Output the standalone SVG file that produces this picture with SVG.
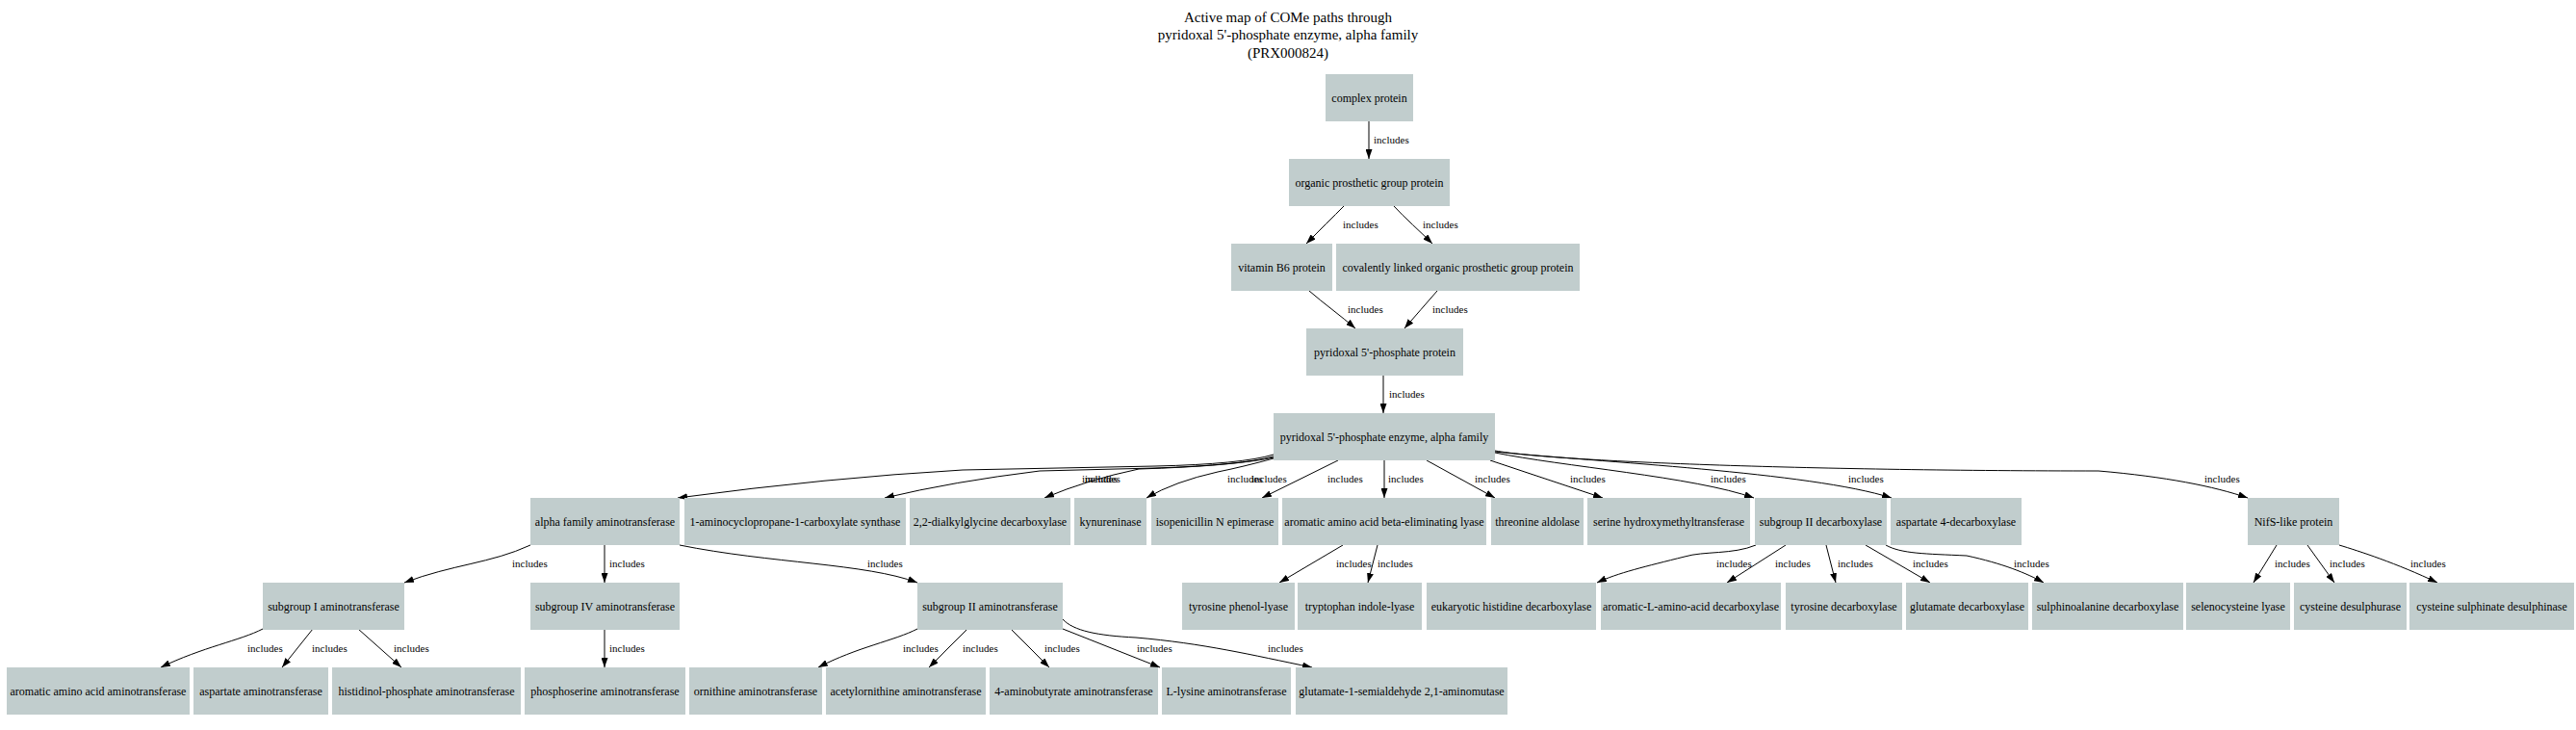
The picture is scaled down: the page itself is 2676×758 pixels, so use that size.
<svg xmlns="http://www.w3.org/2000/svg" width="2676" height="758" viewBox="0 0 2676 758">
<style>
.n rect{fill:#c1cdcd}
.n text{font-family:"Liberation Serif",serif;font-size:12px;text-anchor:middle;fill:#000}
.e path{fill:none;stroke:#000;stroke-width:1;marker-end:url(#a)}
.e text{font-family:"Liberation Serif",serif;font-size:11px;fill:#000}
.t text{font-family:"Liberation Serif",serif;font-size:15px;text-anchor:middle;fill:#000}
</style>
<defs>
<marker id="a" markerWidth="10" markerHeight="7" refX="10" refY="3.5" orient="auto" markerUnits="userSpaceOnUse"><path d="M0,0 L10,3.5 L0,7 z" fill="#000"/></marker>
</defs>
<rect width="2676" height="758" fill="#fff"/>
<g class="t" id="title">
<text x="1338" y="22.5">Active map of COMe paths through</text>
<text x="1338" y="41">pyridoxal 5'-phosphate enzyme, alpha family</text>
<text x="1338" y="59.5">(PRX000824)</text>
</g>
<g class="e" id="edges">
<path d="M1422,126 L1422,165"/><text x="1427" y="149">includes</text>
<path d="M1397,213 C1385,225 1370,240 1357,253"/><text x="1395" y="237">includes</text>
<path d="M1447,213 C1460,227 1475,240 1488,253"/><text x="1478" y="237">includes</text>
<path d="M1360,302 C1375,315 1393,328 1408,341"/><text x="1400" y="325">includes</text>
<path d="M1493,302 C1482,315 1470,328 1459,341"/><text x="1488" y="325">includes</text>
<path d="M1437,390 L1437,429"/><text x="1443" y="413">includes</text>
<path d="M1323,472 Q1290,482 1200,484 L1000,488 Q860,496 704,517"/><text x="1275" y="501">includes</text>
<path d="M1323,474 Q1290,483 1200,486 L1080,489 Q990,500 919,517"/><text x="1124" y="501">includes</text>
<path d="M1323,475 Q1280,484 1183,487 Q1130,498 1085,517"/><text x="1127" y="501">includes</text>
<path d="M1323,476 Q1290,485 1265,490 Q1220,500 1191,517"/><text x="1300" y="501">includes</text>
<path d="M1390,478 L1311,517"/><text x="1379" y="501">includes</text>
<path d="M1438,478 L1438,517"/><text x="1442" y="501">includes</text>
<path d="M1482,478 L1553,517"/><text x="1532" y="501">includes</text>
<path d="M1548,478 L1665,517"/><text x="1631" y="501">includes</text>
<path d="M1553,470 C1620,484 1760,495 1822,517"/><text x="1777" y="501">includes</text>
<path d="M1553,469 C1660,480 1880,490 1965,517"/><text x="1920" y="501">includes</text>
<path d="M1553,468 C1620,480 1900,489 2180,489 C2250,495 2300,505 2335,517"/><text x="2290" y="501">includes</text>
<path d="M551,566 C510,585 470,586 420,605"/><text x="532" y="589">includes</text>
<path d="M628,566 L628,605"/><text x="633" y="589">includes</text>
<path d="M706,566 C800,585 900,585 953,605"/><text x="901" y="589">includes</text>
<path d="M1395,566 L1329,605"/><text x="1388" y="589">includes</text>
<path d="M1431,566 L1421,605"/><text x="1431" y="589">includes</text>
<path d="M1824,566 C1800,576 1770,572 1750,578 C1710,588 1680,595 1659,605"/><text x="1783" y="589">includes</text>
<path d="M1855,566 L1794,605"/><text x="1844" y="589">includes</text>
<path d="M1897,566 L1907,605"/><text x="1909" y="589">includes</text>
<path d="M1938,566 L2005,605"/><text x="1987" y="589">includes</text>
<path d="M1959,566 C1975,575 2000,575 2043,577 C2080,585 2105,595 2123,605"/><text x="2092" y="589">includes</text>
<path d="M2365,566 L2341,605"/><text x="2363" y="589">includes</text>
<path d="M2397,566 L2425,605"/><text x="2420" y="589">includes</text>
<path d="M2430,566 C2450,572 2490,585 2532,605"/><text x="2504" y="589">includes</text>
<path d="M273,653 C250,665 210,672 167,693"/><text x="257" y="677">includes</text>
<path d="M325,653 L293,693"/><text x="324" y="677">includes</text>
<path d="M372,653 L417,693"/><text x="409" y="677">includes</text>
<path d="M628,654 L628,693"/><text x="633" y="677">includes</text>
<path d="M953,653 C930,665 890,672 850,693"/><text x="938" y="677">includes</text>
<path d="M1004,654 L965,693"/><text x="1000" y="677">includes</text>
<path d="M1051,654 L1090,693"/><text x="1085" y="677">includes</text>
<path d="M1104,653 L1205,693"/><text x="1181" y="677">includes</text>
<path d="M1104,643 C1115,655 1140,660 1180,662 C1250,668 1300,680 1363,693"/><text x="1317" y="677">includes</text>
</g>
<g class="n" id="n1"><rect x="1377" y="77" width="91" height="49"/><text x="1422.5" y="105.5">complex protein</text></g>
<g class="n" id="n2"><rect x="1339" y="165" width="167" height="49"/><text x="1422.5" y="193.5">organic prosthetic group protein</text></g>
<g class="n" id="n3"><rect x="1279" y="253" width="105" height="49"/><text x="1331.5" y="281.5">vitamin B6 protein</text></g>
<g class="n" id="n4"><rect x="1388" y="253" width="253" height="49"/><text x="1514.5" y="281.5">covalently linked organic prosthetic group protein</text></g>
<g class="n" id="n5"><rect x="1357" y="341" width="163" height="49"/><text x="1438.5" y="369.5">pyridoxal 5'-phosphate protein</text></g>
<g class="n" id="n6"><rect x="1323" y="429" width="230" height="49"/><text x="1438" y="457.5">pyridoxal 5'-phosphate enzyme, alpha family</text></g>
<g class="n" id="n7"><rect x="551" y="517" width="155" height="49"/><text x="628.5" y="545.5">alpha family aminotransferase</text></g>
<g class="n" id="n8"><rect x="711" y="517" width="230" height="49"/><text x="826" y="545.5">1-aminocyclopropane-1-carboxylate synthase</text></g>
<g class="n" id="n9"><rect x="945" y="517" width="167" height="49"/><text x="1028.5" y="545.5">2,2-dialkylglycine decarboxylase</text></g>
<g class="n" id="n10"><rect x="1116" y="517" width="75" height="49"/><text x="1153.5" y="545.5">kynureninase</text></g>
<g class="n" id="n11"><rect x="1196" y="517" width="132" height="49"/><text x="1262" y="545.5">isopenicillin N epimerase</text></g>
<g class="n" id="n12"><rect x="1332" y="517" width="212" height="49"/><text x="1438" y="545.5">aromatic amino acid beta-eliminating lyase</text></g>
<g class="n" id="n13"><rect x="1549" y="517" width="96" height="49"/><text x="1597" y="545.5">threonine aldolase</text></g>
<g class="n" id="n14"><rect x="1649" y="517" width="169" height="49"/><text x="1733.5" y="545.5">serine hydroxymethyltransferase</text></g>
<g class="n" id="n15"><rect x="1823" y="517" width="137" height="49"/><text x="1891.5" y="545.5">subgroup II decarboxylase</text></g>
<g class="n" id="n16"><rect x="1964" y="517" width="136" height="49"/><text x="2032" y="545.5">aspartate 4-decarboxylase</text></g>
<g class="n" id="n17"><rect x="2335" y="517" width="95" height="49"/><text x="2382.5" y="545.5">NifS-like protein</text></g>
<g class="n" id="n18"><rect x="273" y="605" width="147" height="49"/><text x="346.5" y="633.5">subgroup I aminotransferase</text></g>
<g class="n" id="n19"><rect x="551" y="605" width="155" height="49"/><text x="628.5" y="633.5">subgroup IV aminotransferase</text></g>
<g class="n" id="n20"><rect x="953" y="605" width="151" height="49"/><text x="1028.5" y="633.5">subgroup II aminotransferase</text></g>
<g class="n" id="n21"><rect x="1228" y="605" width="117" height="49"/><text x="1286.5" y="633.5">tyrosine phenol-lyase</text></g>
<g class="n" id="n22"><rect x="1348" y="605" width="129" height="49"/><text x="1412.5" y="633.5">tryptophan indole-lyase</text></g>
<g class="n" id="n23"><rect x="1482" y="605" width="176" height="49"/><text x="1570" y="633.5">eukaryotic histidine decarboxylase</text></g>
<g class="n" id="n24"><rect x="1663" y="605" width="187" height="49"/><text x="1756.5" y="633.5">aromatic-L-amino-acid decarboxylase</text></g>
<g class="n" id="n25"><rect x="1855" y="605" width="121" height="49"/><text x="1915.5" y="633.5">tyrosine decarboxylase</text></g>
<g class="n" id="n26"><rect x="1980" y="605" width="127" height="49"/><text x="2043.5" y="633.5">glutamate decarboxylase</text></g>
<g class="n" id="n27"><rect x="2111" y="605" width="157" height="49"/><text x="2189.5" y="633.5">sulphinoalanine decarboxylase</text></g>
<g class="n" id="n28"><rect x="2271" y="605" width="108" height="49"/><text x="2325" y="633.5">selenocysteine lyase</text></g>
<g class="n" id="n29"><rect x="2383" y="605" width="117" height="49"/><text x="2441.5" y="633.5">cysteine desulphurase</text></g>
<g class="n" id="n30"><rect x="2503" y="605" width="171" height="49"/><text x="2588.5" y="633.5">cysteine sulphinate desulphinase</text></g>
<g class="n" id="n31"><rect x="7" y="693" width="190" height="49"/><text x="102" y="721.5">aromatic amino acid aminotransferase</text></g>
<g class="n" id="n32"><rect x="201" y="693" width="140" height="49"/><text x="271" y="721.5">aspartate aminotransferase</text></g>
<g class="n" id="n33"><rect x="345" y="693" width="196" height="49"/><text x="443" y="721.5">histidinol-phosphate aminotransferase</text></g>
<g class="n" id="n34"><rect x="545" y="693" width="167" height="49"/><text x="628.5" y="721.5">phosphoserine aminotransferase</text></g>
<g class="n" id="n35"><rect x="716" y="693" width="138" height="49"/><text x="785" y="721.5">ornithine aminotransferase</text></g>
<g class="n" id="n36"><rect x="858" y="693" width="166" height="49"/><text x="941" y="721.5">acetylornithine aminotransferase</text></g>
<g class="n" id="n37"><rect x="1028" y="693" width="175" height="49"/><text x="1115.5" y="721.5">4-aminobutyrate aminotransferase</text></g>
<g class="n" id="n38"><rect x="1207" y="693" width="134" height="49"/><text x="1274" y="721.5">L-lysine aminotransferase</text></g>
<g class="n" id="n39"><rect x="1346" y="693" width="220" height="49"/><text x="1456" y="721.5">glutamate-1-semialdehyde 2,1-aminomutase</text></g>
</svg>
